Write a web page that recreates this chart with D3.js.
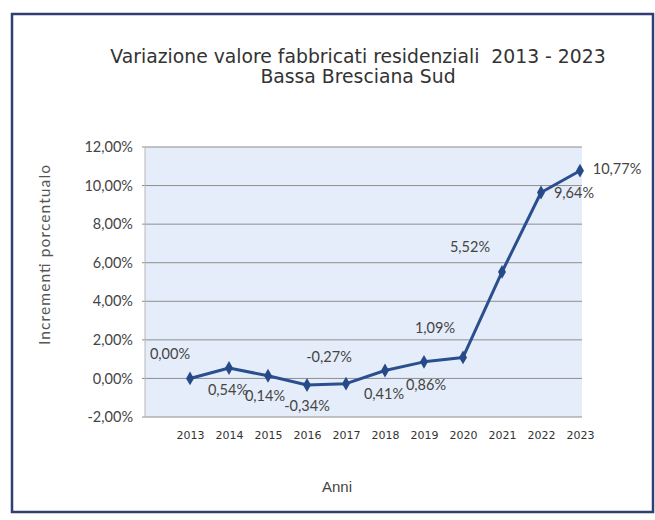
<!DOCTYPE html>
<html><head><meta charset="utf-8">
<script src="https://cdn.jsdelivr.net/npm/d3@7"></script>
<style>body{margin:0;background:#fff}svg{display:block}</style>
</head><body>
<script>
const years = ["2013","2014","2015","2016","2017","2018","2019","2020","2021","2022","2023"];
const values = [0.00, 0.54, 0.14, -0.34, -0.27, 0.41, 0.86, 1.09, 5.52, 9.64, 10.77];
const yTicks = [-2, 0, 2, 4, 6, 8, 10, 12];
// label placement offsets (dx, dy) relative to each point
const labelOffsets = [[-20,-23],[-1,23],[-3,22],[0,22],[-17,-25],[-1,25],[2,24],[-28,-28],[-32,-24],[33,2],[37,0]];

const W = 655, H = 520;
const svg = d3.select("body").append("svg").attr("width", W).attr("height", H);
const fmt = v => d3.format(".2f")(v).replace(".", ",").replace("\u2212", "-") + "%";

// outer frame
svg.append("rect").attr("x", 12).attr("y", 14).attr("width", 641).attr("height", 498)
  .attr("fill", "#fff").attr("stroke", "#2f3f73").attr("stroke-width", 2.5);

// title
const title = svg.append("text").attr("text-anchor", "middle")
  .attr("font-family", "DejaVu Sans, Verdana, sans-serif").attr("font-size", 18.8).attr("fill", "#333");
title.append("tspan").attr("x", 358).attr("y", 63).text("Variazione valore fabbricati residenziali\u00a0\u00a02013 - 2023");
title.append("tspan").attr("x", 358).attr("y", 83).text("Bassa Bresciana Sud");

const plotL = 145, plotR = 582, plotT = 147, plotB = 417;
const y = d3.scaleLinear().domain([-2, 12]).range([plotB, plotT]);
const x = d3.scalePoint().domain(years).range([190, 580]);

// plot area
svg.append("rect").attr("x", plotL).attr("y", plotT).attr("width", plotR - plotL).attr("height", plotB - plotT)
  .attr("fill", "#e4edf9");

// grid lines
svg.append("g").selectAll("line").data(yTicks).join("line")
  .attr("x1", plotL - 3).attr("x2", plotR).attr("y1", d => y(d)).attr("y2", d => y(d))
  .attr("stroke", "#8e8e8e").attr("stroke-width", 1);
svg.append("line").attr("x1", plotL).attr("x2", plotL).attr("y1", plotT).attr("y2", plotB)
  .attr("stroke", "#b8b8b8").attr("stroke-width", 1);

// y axis labels
const yAxis = svg.append("g").attr("transform", `translate(${plotL - 12},0)`)
  .call(d3.axisLeft(y).tickValues(yTicks).tickSize(0).tickPadding(0).tickFormat(fmt));
yAxis.select(".domain").remove();
yAxis.selectAll("text").attr("font-family", "Lato, 'Open Sans', sans-serif").attr("font-size", 14.5).attr("fill", "#444");

// x axis labels
const xAxis = svg.append("g").attr("transform", `translate(0,${plotB + 14})`)
  .call(d3.axisBottom(x).tickSize(0).tickPadding(0));
xAxis.select(".domain").remove();
xAxis.selectAll("text").attr("font-family", "DejaVu Sans, Verdana, sans-serif").attr("font-size", 11).attr("fill", "#333");

// axis titles
svg.append("text").attr("transform", "translate(50,255) rotate(-90)").attr("text-anchor", "middle")
  .attr("font-family", "Lato, 'Open Sans', sans-serif").attr("font-size", 15.5).attr("fill", "#555")
  .attr("textLength", 180).attr("lengthAdjust", "spacing")
  .text("Incrementi porcentualo");
svg.append("text").attr("x", 337).attr("y", 492).attr("text-anchor", "middle")
  .attr("font-family", "Liberation Sans, Arial, sans-serif").attr("font-size", 15).attr("fill", "#444")
  .text("Anni");

// line
const pts = years.map((yr, i) => ({yr, v: values[i], i}));
svg.append("path").datum(pts)
  .attr("d", d3.line().x(d => x(d.yr)).y(d => y(d.v)))
  .attr("fill", "none").attr("stroke", "#2b4f8e").attr("stroke-width", 3).attr("stroke-linejoin", "round");
svg.append("g").selectAll("path").data(pts).join("path")
  .attr("d", d3.symbol(d3.symbolDiamond, 55))
  .attr("transform", d => `translate(${x(d.yr)},${y(d.v)})`)
  .attr("fill", "#264a88");

// data labels
svg.append("g").selectAll("text").data(pts).join("text")
  .attr("x", d => x(d.yr) + labelOffsets[d.i][0])
  .attr("y", d => y(d.v) + labelOffsets[d.i][1])
  .attr("text-anchor", "middle").attr("dominant-baseline", "middle")
  .attr("font-family", "Lato, 'Open Sans', sans-serif").attr("font-size", 14.5).attr("fill", "#444")
  .text(d => fmt(d.v));
</script>
</body></html>
